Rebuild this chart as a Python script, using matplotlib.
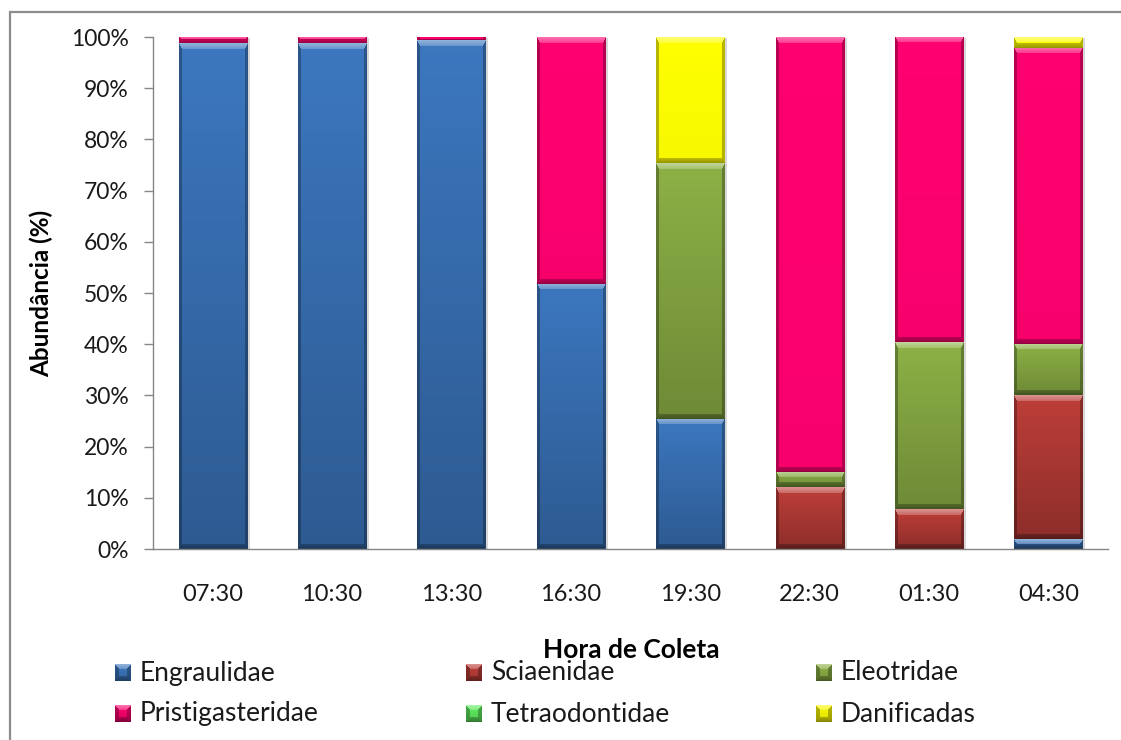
import numpy as np
import matplotlib
matplotlib.use("Agg")
import matplotlib.pyplot as plt
from matplotlib.colors import to_rgb
from matplotlib.patches import Rectangle
from matplotlib import transforms

plt.rcParams['font.family'] = ['Lato', 'DejaVu Sans']

# ---- data (percent of catch per sampling time) ----
hours = ["07:30", "10:30", "13:30", "16:30", "19:30", "22:30", "01:30", "04:30"]
engraulidae = [98.8, 98.8, 99.4, 51.8, 25.4, 0.0, 0.0, 1.9]
sciaenidae = [0.0, 0.0, 0.0, 0.0, 0.0, 12.1, 7.8, 28.1]
eleotridae = [0.0, 0.0, 0.0, 0.0, 50.0, 3.0, 32.6, 10.0]
pristigasteridae = [1.2, 1.2, 0.6, 48.2, 0.0, 84.9, 59.6, 57.9]
tetraodontidae = [0.0, 0.0, 0.0, 0.0, 0.0, 0.0, 0.0, 0.0]
danificadas = [0.0, 0.0, 0.0, 0.0, 24.6, 0.0, 0.0, 2.1]

series_names = ["Engraulidae", "Sciaenidae", "Eleotridae",
                "Pristigasteridae", "Tetraodontidae", "Danificadas"]
series_values = [engraulidae, sciaenidae, eleotridae,
                 pristigasteridae, tetraodontidae, danificadas]
series_colors = ["#3C77BF", "#BE3E39", "#8DB146", "#FF0070", "#5FEF5F", "#FFFF00"]
# darkening factor applied at the bottom of each segment (vertical gradient)
series_fade = [0.76, 0.74, 0.78, 0.97, 0.9, 0.97]

W, H, DPI = 1121, 740, 100
fig = plt.figure(figsize=(W / DPI, H / DPI), dpi=DPI)
fig.patch.set_facecolor("white")

ax_l, ax_r, ax_b, ax_t = 153, 1108, 549, 37
ax = fig.add_axes([ax_l / W, (H - ax_b) / H, (ax_r - ax_l) / W, (ax_b - ax_t) / H])
ax.set_xlim(-0.5, len(hours) - 0.5)
ax.set_ylim(0, 100)

px_x = (ax_r - ax_l) / len(hours)   # pixels per category
px_y = (ax_b - ax_t) / 100.0        # pixels per percent


def bevel_image(nx, ny, color, fade, b_top=6.0, b_side=3.0, b_bot=5.0,
                light=0.45, dark_side=0.72, dark_bot=0.6):
    base = np.array(to_rgb(color))
    jj, ii = np.mgrid[0:ny, 0:nx].astype(float)
    t = jj / max(ny - 1, 1)
    fac = 1.0 - (1.0 - fade) * t
    img = base[None, None, :] * fac[..., None]
    b_top = min(b_top, ny / 2.0)
    b_bot = min(b_bot, ny / 2.0)
    dl = (ii + 0.5) / b_side
    dr = (nx - ii - 0.5) / b_side
    dt = (jj + 0.5) / b_top
    db = (ny - jj - 0.5) / b_bot
    stack = np.stack([dt, db, dl, dr])
    m = stack.min(axis=0)
    which = stack.argmin(axis=0)
    edge = m < 1.0
    top = edge & (which == 0)
    bot = edge & (which == 1)
    side = edge & ((which == 2) | (which == 3))
    w_top = light * (1.0 - 0.5 * dt)
    img[top] = img[top] + (1.0 - img[top]) * w_top[top][:, None]
    img[side] = img[side] * dark_side
    img[bot] = img[bot] * (dark_bot + (1 - dark_bot) * 0.4 * db[bot])[:, None]
    return np.clip(img, 0, 1)


bar_w = 0.57
x = np.arange(len(hours))

# soft shadow behind each full bar
shadow_tr = transforms.offset_copy(ax.transData, fig=fig, x=3, y=-1, units='dots')
for xi in x:
    ax.add_patch(Rectangle((xi - bar_w / 2, 0), bar_w, 100, transform=shadow_tr,
                           facecolor="#b8b8b8", edgecolor="none", alpha=0.55, zorder=1))

bottoms = np.zeros(len(hours))
for vals, col, fade in zip(series_values, series_colors, series_fade):
    vals = np.asarray(vals, dtype=float)
    for xi, v, b in zip(x, vals, bottoms):
        if v <= 0:
            continue
        nx = max(2, int(round(bar_w * px_x)))
        ny = max(2, int(round(v * px_y)))
        img = bevel_image(nx, ny, col, fade)
        ax.imshow(img, extent=[xi - bar_w / 2, xi + bar_w / 2, b, b + v],
                  aspect='auto', interpolation='nearest', zorder=2)
    bottoms += vals

ax.set_xlim(-0.5, len(hours) - 0.5)
ax.set_ylim(0, 100)
ax.set_aspect('auto')

# axes styling
for s in ("top", "right"):
    ax.spines[s].set_visible(False)
for s in ("left", "bottom"):
    ax.spines[s].set_color("#868686")
    ax.spines[s].set_linewidth(1.0)

ax.set_yticks(np.arange(0, 101, 10))
ax.set_yticklabels([f"{v}%" for v in range(0, 101, 10)])
ax.set_xticks(x)
ax.set_xticklabels(hours)
ax.tick_params(axis='y', length=6.5, width=1.0, color="#868686", pad=11,
               labelsize=16.5, labelcolor="#1a1a1a")
ax.tick_params(axis='x', length=0, pad=25, labelsize=17, labelcolor="#1a1a1a")

ax.set_ylabel("Abundância (%)", fontsize=17.5, fontweight='bold', color="black")
ax.yaxis.set_label_coords(-0.105, 0.5)

# overlay in pixel coordinates for the frame, axis title and legend
ov = fig.add_axes([0, 0, 1, 1], zorder=5)
ov.set_xlim(0, W)
ov.set_ylim(H, 0)
ov.axis('off')
ov.patch.set_alpha(0)
ov.plot([10, 10, W], [H, 12, 12], color="#8c8c8c", lw=1.6, solid_joinstyle='miter')

ov.text(631, 650, "Hora de Coleta", ha='center', va='center',
        fontsize=19, fontweight='bold', color="black")

legend_cols = [115, 466, 816]
legend_rows = [673, 714]
for k, (name, col) in enumerate(zip(series_names, series_colors)):
    r, c = divmod(k, 3)
    mx, my = legend_cols[c], legend_rows[r]
    img = bevel_image(16, 17, col, 0.85, b_top=5, b_side=4, b_bot=5)
    ov.imshow(img, extent=[mx, mx + 16, my + 8.5, my - 8.5], aspect='auto',
              interpolation='nearest')
    ov.text(mx + 25, my, name, ha='left', va='center', fontsize=19, color="#1a1a1a")

ov.set_xlim(0, W)
ov.set_ylim(H, 0)

fig.savefig("out.png", dpi=DPI, facecolor="white")
